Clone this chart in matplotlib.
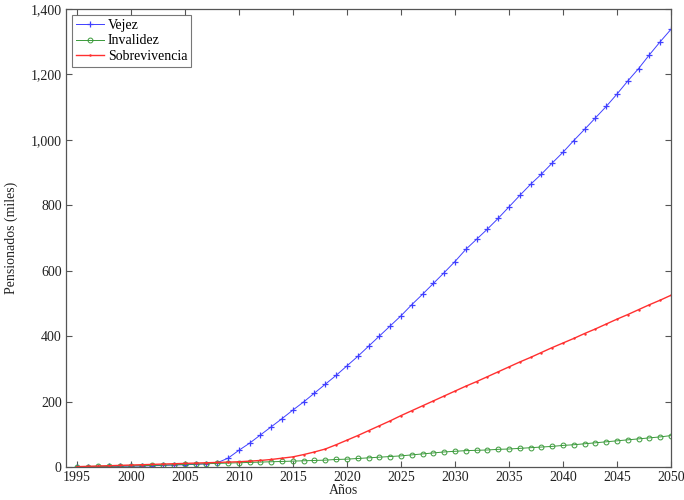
import matplotlib
matplotlib.use("Agg")
import matplotlib.pyplot as plt
from matplotlib.ticker import FuncFormatter

# --- DATA ---
years = list(range(1995, 2051))

vejez = [0, 1, 1, 2, 2, 3, 3, 4, 5, 6, 7, 8, 10, 13,
         27, 51, 73, 98, 123, 148, 174, 199, 226, 253, 280,
         309, 338, 369, 400, 431, 462, 496, 528, 561, 594,
         628, 665, 696, 727, 760, 795, 830, 864, 895, 929,
         962, 998, 1032, 1067, 1102, 1140, 1180, 1218, 1260, 1300, 1338]

invalidez = [1, 1.5, 2, 2.5, 3, 3.5, 4, 5, 6, 7, 8, 9, 10, 11,
             12, 13, 14, 15, 16, 17, 18, 19, 20, 21, 23,
             24, 26, 28, 30, 32, 34, 37, 40, 43, 46,
             48, 50, 51, 52, 54, 55, 57, 59, 61, 63,
             66, 68, 71, 74, 77, 80, 83, 86, 89, 92, 96]

sobrevivencia = [1, 2, 3, 4, 5, 6, 7, 8, 9, 10, 11, 12, 13, 14,
                 15, 16, 18, 20, 23, 27, 31, 38, 46, 55, 68,
                 82, 96, 111, 126, 141, 157, 172, 187, 202, 217,
                 232, 247, 261, 276, 291, 306, 321, 335, 350, 365,
                 379, 393, 408, 422, 437, 452, 466, 481, 496, 510, 525]

series_labels = ["Vejez", "Invalidez", "Sobrevivencia"]
x_ticks = list(range(1995, 2051, 5))
y_ticks = list(range(0, 1401, 200))

# --- PLOT ---
plt.rcParams['font.family'] = ['Liberation Serif', 'DejaVu Serif']
plt.rcParams['font.size'] = 10

fig = plt.figure(figsize=(6.84, 5.0), dpi=100)
ax = fig.add_axes([0.0965, 0.066, 0.8845, 0.916])

ax.plot(years, vejez, color='#4040ff', marker='+', markersize=4,
        linewidth=0.7, markeredgewidth=0.9, label=series_labels[0])
ax.plot(years, invalidez, color='#3a9a3a', marker='o', markersize=3.5,
        markerfacecolor='none', linewidth=0.7, markeredgewidth=0.7,
        label=series_labels[1])
ax.plot(years, sobrevivencia, color='#ff3030', marker='.', markersize=1.5,
        linewidth=1.0, label=series_labels[2])

ax.set_xlim(1994, 2050)
ax.set_ylim(0, 1400)
ax.set_xticks(x_ticks)
ax.set_yticks(y_ticks)
ax.yaxis.set_major_formatter(FuncFormatter(lambda v, p: f"{int(v):,}"))

ax.tick_params(direction='in', top=True, right=True, length=4,
               color='#555555', labelcolor='#222222', pad=3)
for s in ax.spines.values():
    s.set_color('#555555')
    s.set_linewidth(0.9)

ax.set_xlabel("Años", color='#222222')
ax.set_ylabel("Pensionados (miles)", color='#222222')
ax.xaxis.set_label_coords(0.458, -0.038)
ax.yaxis.set_label_coords(-0.079, 0.5)

leg = ax.legend(loc='upper left', frameon=True, fancybox=False,
                handlelength=2.0, handletextpad=0.3, borderpad=0.3,
                labelspacing=0.2, numpoints=1, borderaxespad=0.4)
leg.get_frame().set_edgecolor('#555555')
leg.get_frame().set_linewidth(0.8)

fig.savefig("out.png", dpi=100)
